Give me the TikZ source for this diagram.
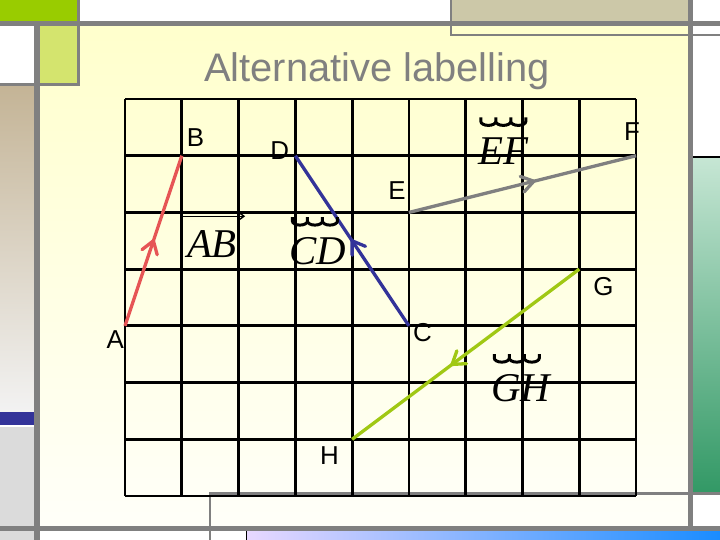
\documentclass[tikz,border=0pt]{standalone}
\usepackage{fontspec}
\setmainfont{Liberation Sans}
\newfontfamily\vecfont{Liberation Serif}
\usetikzlibrary{arrows.meta, positioning, decorations.markings}

\definecolor{framegray}{RGB}{128,128,128}
\definecolor{limegreen}{RGB}{153,204,0}
\definecolor{palelime}{RGB}{212,228,110}
\definecolor{khaki}{RGB}{204,200,168}
\definecolor{sand}{RGB}{196,180,150}
\definecolor{slideblue}{RGB}{51,51,153}
\definecolor{paleyellow}{RGB}{255,255,204}
\definecolor{seagreen}{RGB}{51,153,102}
\definecolor{mint}{RGB}{198,230,212}
\definecolor{lilac}{RGB}{232,216,255}
\definecolor{skyblue}{RGB}{26,140,255}
\definecolor{abred}{RGB}{230,85,85}
\definecolor{ghgreen}{RGB}{160,200,20}

\begin{document}
\begin{tikzpicture}[
      x=1bp, y=-1bp,
      frame/.style={draw=framegray, line width=#1}, frame/.default=5bp,
      vector/.style={line width=3.3bp, postaction={decorate},
        decoration={markings, mark=at position #1 with
          {\draw[line width=3.3bp, line cap=round, line join=round]
            (-12bp,8bp) -- (0bp,0bp) -- (-12bp,-8bp);}}},
      point/.style={font=\fontsize{26}{26}\selectfont, inner sep=0pt},
      veclabel/.style={font=\vecfont\itshape\fontsize{41}{41}\selectfont, inner sep=0pt},
      arcsym/.pic={\draw[x=1bp, y=1bp, line width=3bp]
        (0,0) -- (0,-4) arc[start angle=180, end angle=360, x radius=7.5, y radius=4] -- (15,0)
        (15,-4) arc[start angle=180, end angle=360, x radius=7.5, y radius=4] -- (30,0)
        (30,-4) arc[start angle=180, end angle=360, x radius=7.5, y radius=4] -- (45,0);},
      ]

      \useasboundingbox (0,0) rectangle (720,540);
      % slide background
      \fill[white] (0,0) rectangle (720,540);
      \shade[top color=paleyellow, bottom color=paleyellow!12!white] (40,24) rectangle (688,527);
      \fill[limegreen] (0,0) rectangle (78,22);
      \fill[khaki] (451,0) rectangle (688,22);
      \fill[palelime] (40,26) rectangle (77,83);
      \shade[top color=sand, bottom color=white!95!black] (0,86) rectangle (33.5,412);
      \fill[slideblue] (0,412) rectangle (33.5,425);
      \fill[black!14] (0,427) rectangle (33.5,540);
      \shade[top color=mint, bottom color=seagreen] (693,158) rectangle (720,491);
      \draw[line width=1.2bp] (692,157) -- (720,157);
      \shade[left color=lilac, right color=skyblue] (246,530) rectangle (720,540);
      \draw[line width=1bp] (246,530) -- (246,540);

      % frame lines
      \draw[frame] (0,24) -- (720,24);
      \draw[frame=2.5bp] (451,0) |- (720,35);
      \draw[frame=3bp] (78.5,0) -- (78.5,84.5) -- (0,84.5);
      \draw[frame=6bp] (36.5,24) -- (36.5,540);
      \draw[frame] (690,0) -- (690,527);
      \draw[frame] (0,528) -- (720,528);
      \draw[frame=2.5bp] (210,540) |- (720,493.5);

      \node[font=\fontsize{40}{40}\selectfont, text=framegray, inner sep=0pt, anchor=base]
        (title) at (377,82) {Alternative labelling};

      \begin{scope}[shift={(125,496)}, x=56.78bp, y=56.71bp]
        \draw[line width=2.8bp, step=1] (0,0) grid (9,7);

        \coordinate (A) at (0,3);
        \coordinate (B) at (1,6);
        \coordinate (C) at (5,3);
        \coordinate (D) at (3,6);
        \coordinate (E) at (5,5);
        \coordinate (F) at (9,6);
        \coordinate (G) at (8,4);
        \coordinate (H) at (4,1);

        \draw[vector=0.5, abred] (A) -- (B);
        \draw[vector=0.5, slideblue] (C) -- (D);
        \draw[vector=0.55, framegray] (E) -- (F);
        \draw[vector=0.56, ghgreen] (G) -- (H);

        \node[point, below left=5bp and 1bp of A]    (lA) {A};
        \node[point, above right=9bp and 5bp of B]   (lB) {B};
        \node[point, right=4bp of C, yshift=-7bp]    (lC) {C};
        \node[point, left=6bp of D, yshift=5bp]      (lD) {D};
        \node[point, above left=13bp and 3bp of E]   (lE) {E};
        \node[point, above=15bp of F, xshift=-4bp]   (lF) {F};
        \node[point, below right=8bp and 14bp of G]  (lG) {G};
        \node[point, below left=7bp and 13bp of H]   (lH) {H};

        \node[veclabel] (vAB) at (1.532,4.444) {AB};
        \node[veclabel] (vCD) at (3.399,4.320) {CD};
        \node[veclabel] (vEF) at (6.657,6.084) {EF};
        \node[veclabel] (vGH) at (6.974,1.904) {GH};

        \draw[line width=1.4bp, -{Straight Barb[length=4bp,width=6bp]}]
          ([shift={(-4bp,14bp)}]vAB.north west) -- ([shift={(8bp,14bp)}]vAB.north east);
        \pic at ([shift={(3bp,20bp)}]vCD.north west) {arcsym};
        \pic at ([shift={(3bp,20bp)}]vEF.north west) {arcsym};
        \pic at ([shift={(3bp,20bp)}]vGH.north west) {arcsym};
      \end{scope}
    \end{tikzpicture}
\end{document}
